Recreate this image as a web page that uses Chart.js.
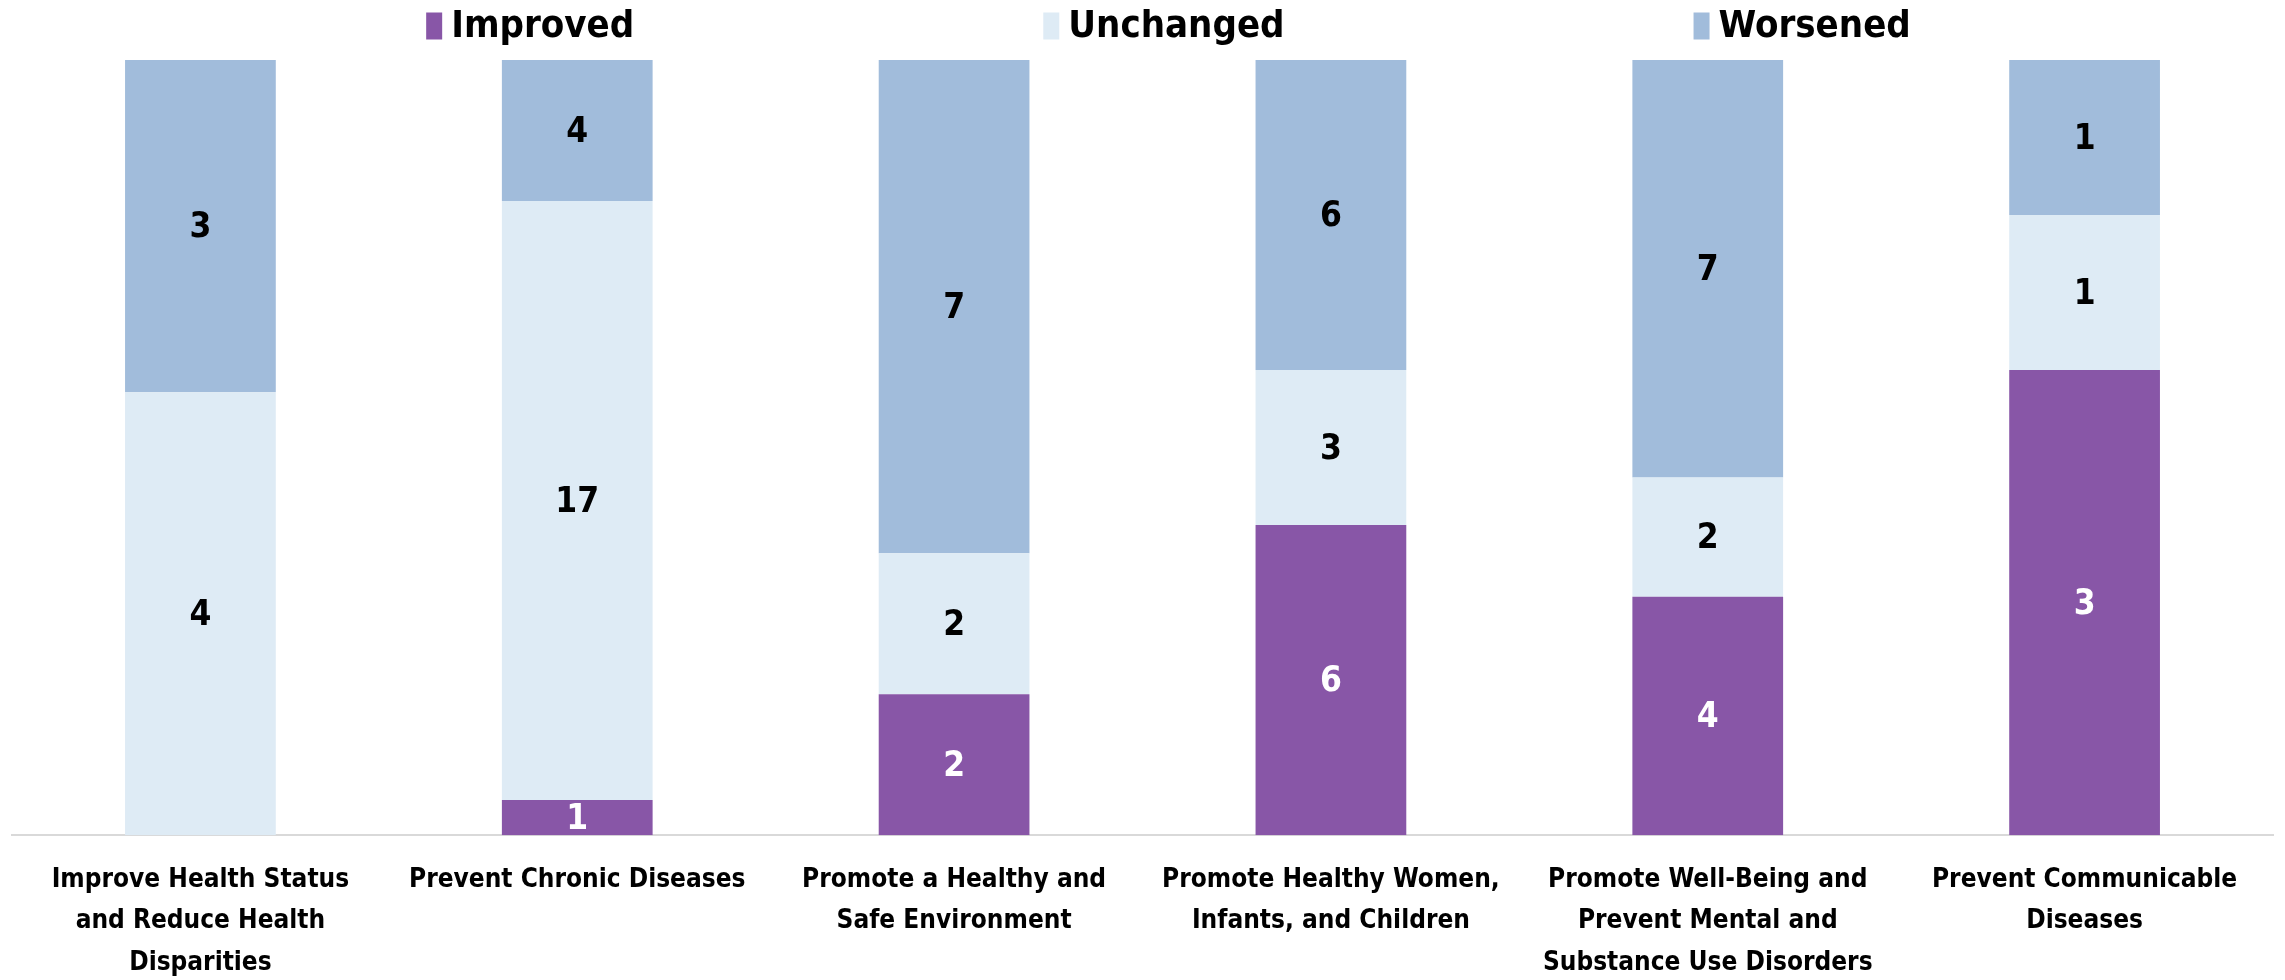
<!DOCTYPE html>
<html>
<head>
<meta charset="utf-8">
<script src="https://cdn.jsdelivr.net/npm/chart.js@4.4.0/dist/chart.umd.min.js"></script>
<style>
  html, body { margin: 0; padding: 0; background: #fff; }
  #wrap { width: 2285px; height: 980px; }
</style>
</head>
<body>
<div id="wrap"><canvas id="chart"></canvas></div>
<script>
// --- DATOS ---
const categories = [
  ['Improve Health Status', 'and Reduce Health', 'Disparities'],
  ['Prevent Chronic Diseases'],
  ['Promote a Healthy and', 'Safe Environment'],
  ['Promote Healthy Women,', 'Infants, and Children'],
  ['Promote Well-Being and', 'Prevent Mental and', 'Substance Use Disorders'],
  ['Prevent Communicable', 'Diseases']
];
const seriesNames = ['Improved', 'Unchanged', 'Worsened'];
const improved  = [0, 1, 2, 6, 4, 3];
const unchanged = [4, 17, 2, 3, 2, 1];
const worsened  = [3, 4, 7, 6, 7, 1];

const FONT = '"Liberation Sans Narrow", "DejaVu Sans Condensed", "Open Sans", sans-serif';
const totals = improved.map((v, i) => v + unchanged[i] + worsened[i]);
const pct = arr => arr.map((v, i) => v / totals[i] * 100);

// etiquetas dentro de las barras
const barLabels = {
  id: 'barLabels',
  afterDatasetsDraw(chart) {
    const ctx = chart.ctx;
    ctx.save();
    ctx.font = 'bold 35px ' + FONT;
    ctx.textAlign = 'center';
    ctx.textBaseline = 'middle';
    chart.data.datasets.forEach((ds, di) => {
      chart.getDatasetMeta(di).data.forEach((bar, i) => {
        const count = ds.counts[i];
        if (!count) return;
        ctx.fillStyle = ds.labelColor;
        ctx.fillText(count, bar.x, (bar.y + bar.base) / 2 + 2);
      });
    });
    ctx.restore();
  }
};

// leyenda propia (la de Chart.js mete el padding también en vertical)
const topLegend = {
  id: 'topLegend',
  afterDraw(chart) {
    const ctx = chart.ctx;
    const gap = 409, boxW = 16, boxH = 27, textGap = 9;
    ctx.save();
    ctx.font = 'bold 38px ' + FONT;
    ctx.textBaseline = 'middle';
    const items = chart.data.datasets.map(ds => ({
      text: ds.label, color: ds.backgroundColor,
      w: boxW + textGap + ctx.measureText(ds.label).width
    }));
    const total = items.reduce((s, it) => s + it.w, 0) + gap * (items.length - 1);
    let x = (chart.width - total) / 2 + 26;
    const yMid = 26;
    items.forEach(it => {
      ctx.fillStyle = it.color;
      ctx.fillRect(x, yMid - boxH / 2, boxW, boxH);
      ctx.fillStyle = '#000';
      ctx.fillText(it.text, x + boxW + textGap, yMid + 1);
      x += it.w + gap;
    });
    ctx.restore();
  }
};

new Chart(document.getElementById('chart'), {
  type: 'bar',
  data: {
    labels: categories,
    datasets: [
      { label: seriesNames[0], data: pct(improved), counts: improved, backgroundColor: '#8856a7', labelColor: '#ffffff' },
      { label: seriesNames[1], data: pct(unchanged), counts: unchanged, backgroundColor: '#deebf5', labelColor: '#000000' },
      { label: seriesNames[2], data: pct(worsened), counts: worsened, backgroundColor: '#a1bcdb', labelColor: '#000000' }
    ]
  },
  options: {
    responsive: true,
    maintainAspectRatio: false,
    animation: false,
    layout: { padding: { left: 12, right: 12, top: 60, bottom: -20 } },
    datasets: { bar: { categoryPercentage: 1, barPercentage: 0.4 } },
    plugins: {
      tooltip: { enabled: false },
      legend: { display: false }
    },
    scales: {
      x: {
        stacked: true,
        grid: { display: false },
        border: { color: '#d9d9d9', width: 2 },
        ticks: {
          color: '#000',
          padding: 16,
          maxRotation: 0,
          autoSkip: false,
          font: { family: FONT, size: 26, weight: 'bold', lineHeight: 1.6 }
        }
      },
      y: {
        stacked: true,
        display: false,
        min: 0,
        max: 100
      }
    }
  },
  plugins: [barLabels, topLegend]
});
</script>
</body>
</html>
